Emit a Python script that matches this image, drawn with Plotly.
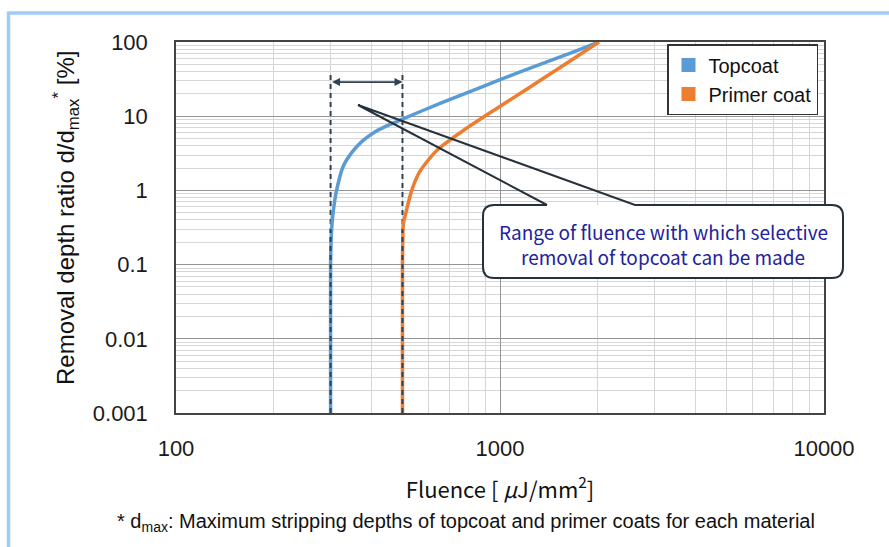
import numpy as np
import plotly.graph_objects as go

# ---- data ----
topcoat_x = [300, 300, 301, 303, 307, 313, 328, 349, 375, 411, 458, 502, 653, 830, 1000, 1330, 1650, 2020]
topcoat_y = [0.001, 0.1, 0.2, 0.35, 0.6, 1.0, 2.1, 3.25, 4.58, 6.14, 7.75, 9.2, 14.9, 22.5, 31, 50, 71, 100]
primer_x = [500, 500, 501, 503, 515, 534, 566, 638, 770, 977, 1153, 1329, 1610, 2020]
primer_y = [0.001, 0.1, 0.2, 0.35, 0.55, 1.0, 1.8, 3.46, 6.4, 12.7, 20.2, 30.3, 52, 100]
range_x = [300, 500]           # selective-removal fluence window
range_top = 36.6               # top of dashed guide lines
arrow_y = 28.8                 # level of double arrow
series_names = ["Topcoat", "Primer coat"]
x_ticks = [100, 1000, 10000]
x_ticktext = ["100", "1000", "10000"]
y_ticks = [0.001, 0.01, 0.1, 1, 10, 100]
y_ticktext = ["0.001", "0.01", "0.1", "1", "10", "100"]

BLUE = "#5B9BD5"
ORANGE = "#ED7D31"
DARK = "#2F4254"

x_minor = [m * d for d in (100, 1000) for m in range(2, 10)]
y_minor = [m * d for d in (0.001, 0.01, 0.1, 1, 10) for m in range(2, 10)]

fig = go.Figure()

# dashed guide lines
for xv in range_x:
    fig.add_trace(go.Scatter(x=[xv, xv], y=[0.001, range_top], mode="lines",
                             line=dict(color=DARK, width=2, dash="5px,4px"),
                             showlegend=False, hoverinfo="skip"))

fig.add_trace(go.Scatter(x=topcoat_x, y=topcoat_y, mode="lines",
                         line=dict(color=BLUE, width=3.5, shape="spline", smoothing=0.7),
                         showlegend=False))
fig.add_trace(go.Scatter(x=primer_x, y=primer_y, mode="lines",
                         line=dict(color=ORANGE, width=3.5, shape="spline", smoothing=0.7),
                         showlegend=False))
# redraw dashes on top of the vertical parts
for xv in range_x:
    fig.add_trace(go.Scatter(x=[xv, xv], y=[0.001, 0.3], mode="lines",
                             line=dict(color=DARK, width=2, dash="5px,4px"),
                             showlegend=False, hoverinfo="skip"))

# legend entries (square swatches)
for name, col in zip(series_names, [BLUE, ORANGE]):
    fig.add_trace(go.Scatter(x=[None], y=[None], mode="markers", name=name,
                             marker=dict(symbol="square", size=14, color=col)))

# double arrow
fig.add_annotation(x=np.log10(range_x[1]), y=np.log10(arrow_y),
                   ax=np.log10(range_x[0]), ay=np.log10(arrow_y),
                   xref="x", yref="y", axref="x", ayref="y", text="",
                   showarrow=True, arrowhead=2, startarrowhead=2, arrowside="end+start",
                   arrowsize=1, startarrowsize=1, arrowwidth=1.6, arrowcolor=DARK)

# pixel -> paper helpers (plot area 176..824 x 42..413)
L, R, T, B = 176, 824, 42, 413
W, H = R - L, B - T
def fx(px):
    return (px - L) / W
def fy(py):
    return (B - py) / H

shapes = []
# outer light-blue frame (top and left)
shapes.append(dict(type="line", xref="paper", yref="paper", x0=fx(8.5), x1=fx(900), y0=fy(13), y1=fy(13),
                   line=dict(color="#9FCBF7", width=3.5)))
shapes.append(dict(type="line", xref="paper", yref="paper", x0=fx(8.5), x1=fx(8.5), y0=fy(11.5), y1=fy(560),
                   line=dict(color="#9FCBF7", width=3.5)))

# callout box
bx0, bx1, by0, by1, rr = 483, 843, 205, 278, 11
def P(px, py):
    return f"{fx(px):.5f},{fy(py):.5f}"
box_fill = (f"M{P(bx0+rr,by0)} L{P(bx1-rr,by0)} Q{P(bx1,by0)} {P(bx1,by0+rr)} "
            f"L{P(bx1,by1-rr)} Q{P(bx1,by1)} {P(bx1-rr,by1)} L{P(bx0+rr,by1)} "
            f"Q{P(bx0,by1)} {P(bx0,by1-rr)} L{P(bx0,by0+rr)} Q{P(bx0,by0)} {P(bx0+rr,by0)} Z")
shapes.append(dict(type="path", xref="paper", yref="paper", path=box_fill,
                   fillcolor="white", line=dict(width=0), layer="above"))
w1, w2, tip = (547, by0), (635, by0), (358, 105)
box_line = (f"M{P(*w1)} L{P(bx0+rr,by0)} Q{P(bx0,by0)} {P(bx0,by0+rr)} L{P(bx0,by1-rr)} "
            f"Q{P(bx0,by1)} {P(bx0+rr,by1)} L{P(bx1-rr,by1)} Q{P(bx1,by1)} {P(bx1,by1-rr)} "
            f"L{P(bx1,by0+rr)} Q{P(bx1,by0)} {P(bx1-rr,by0)} L{P(*w2)} L{P(*tip)} L{P(*w1)}")
shapes.append(dict(type="path", xref="paper", yref="paper", path=box_line,
                   fillcolor="rgba(0,0,0,0)", line=dict(color="#26313B", width=2), layer="above"))
fig.update_layout(shapes=shapes)

box_font = dict(family="Noto Sans CJK JP, Noto Sans, sans-serif", size=19, color="#2222A0")
fig.add_annotation(xref="paper", yref="paper", x=fx(663), y=fy(231), xanchor="center", yanchor="middle",
                   text="Range of fluence with which selective", showarrow=False, font=box_font)
fig.add_annotation(xref="paper", yref="paper", x=fx(663), y=fy(256), xanchor="center", yanchor="middle",
                   text="removal of topcoat can be made", showarrow=False, font=box_font)

# y-axis title
fig.add_annotation(xref="paper", yref="paper", x=fx(66), y=fy(218), xanchor="center", yanchor="middle",
                   text="Removal depth ratio d/d<sub>max</sub><sup>*</sup> [%]", textangle=-90,
                   showarrow=False,
                   font=dict(family="Liberation Sans, Arial, sans-serif", size=24, color="#111111"))

# footnote
fig.add_annotation(xref="paper", yref="paper", x=fx(466), y=fy(522), xanchor="center", yanchor="middle",
                   text="* d<sub>max</sub>: Maximum stripping depths of topcoat and primer coats for each material",
                   showarrow=False,
                   font=dict(family="Liberation Sans Narrow, Arial Narrow, Liberation Sans, sans-serif",
                             size=20, color="#111111"))

axis_font = dict(family="Liberation Sans, Arial, sans-serif", size=22, color="#1a1a1a")
fig.update_xaxes(type="log", range=[2, 4], tickvals=x_ticks, ticktext=x_ticktext,
                 showgrid=True, gridcolor="#949494", gridwidth=1,
                 minor=dict(tickvals=x_minor, showgrid=True, gridcolor="#d6d6d6", gridwidth=1, ticks=""),
                 showline=True, linecolor="#444444", linewidth=1.5, mirror=True,
                 ticks="", ticklabelstandoff=15, tickfont=axis_font, zeroline=False,
                 title=dict(text="Fluence [ <i>μ</i>J/mm<sup>2</sup>]", standoff=22,
                            font=dict(family="Noto Sans CJK JP, Noto Sans, sans-serif", size=22, color="#111111")))
fig.update_yaxes(type="log", range=[-3, 2], tickvals=y_ticks, ticktext=y_ticktext,
                 showgrid=True, gridcolor="#949494", gridwidth=1,
                 minor=dict(tickvals=y_minor, showgrid=True, gridcolor="#d6d6d6", gridwidth=1, ticks=""),
                 showline=True, linecolor="#444444", linewidth=1.5, mirror=True,
                 ticks="", ticklabelstandoff=22, tickfont=axis_font, zeroline=False)

fig.update_layout(
    width=889, height=547,
    margin=dict(l=L, r=889 - R, t=T, b=547 - B, autoexpand=False),
    paper_bgcolor="white", plot_bgcolor="white",
    legend=dict(x=fx(667), y=fy(44), xanchor="left", yanchor="top",
                bgcolor="white", bordercolor="#333333", borderwidth=1.5,
                font=dict(family="Liberation Sans, Arial, sans-serif", size=20, color="#111111"),
                itemwidth=30, tracegroupgap=0),
)

fig.write_html("out.html")
